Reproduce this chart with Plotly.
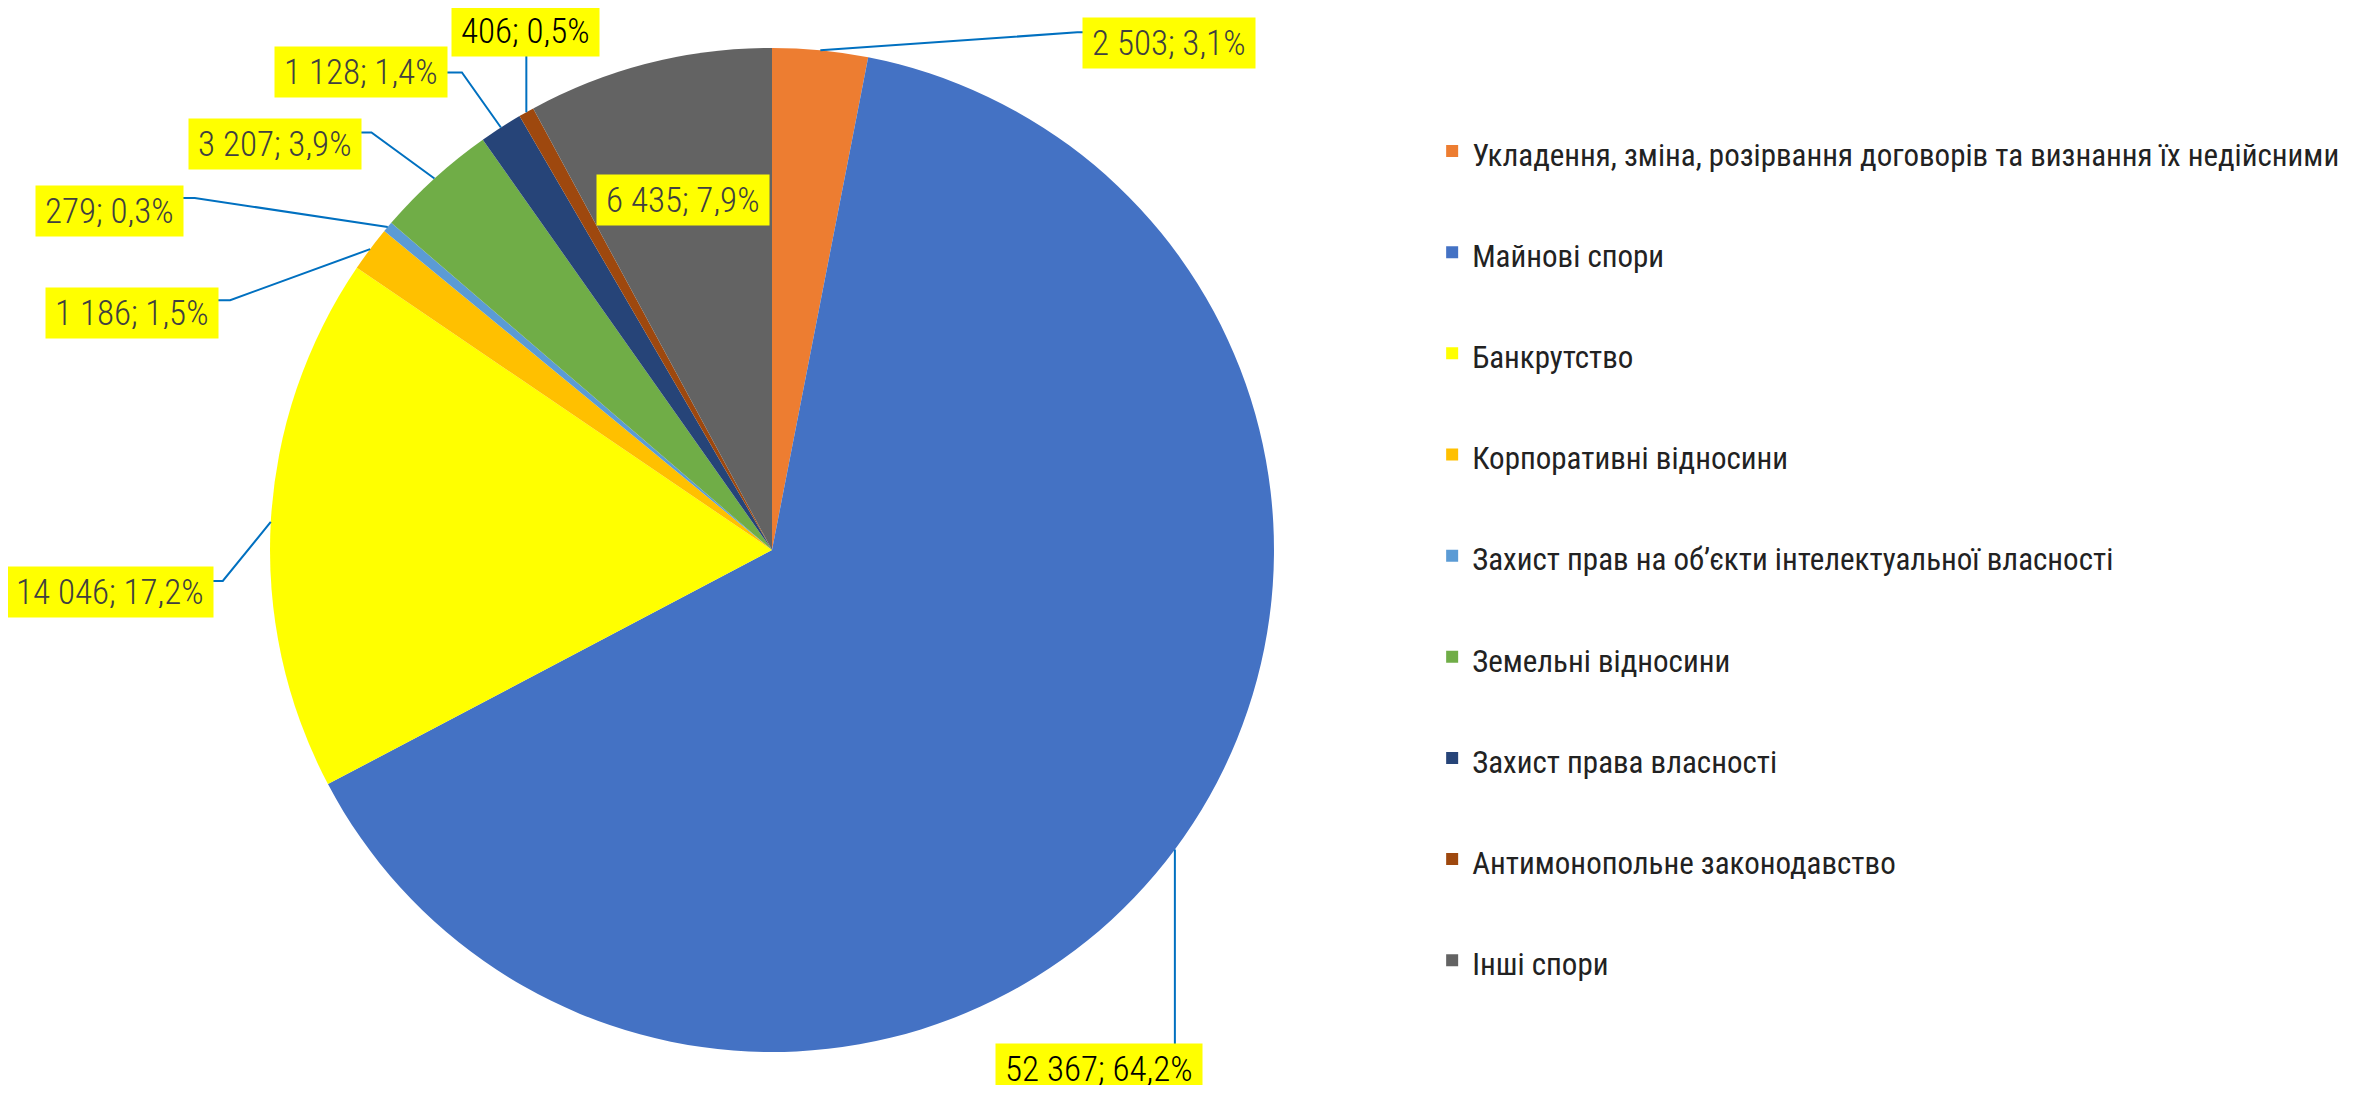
import math
import plotly.graph_objects as go

# ── Data ──────────────────────────────────────────────────────────────────────
categories = [
    "Укладення, зміна, розірвання договорів та визнання їх недійсними",
    "Майнові спори",
    "Банкрутство",
    "Корпоративні відносини",
    "Захист прав на об’єкти інтелектуальної власності",
    "Земельні відносини",
    "Захист права власності",
    "Антимонопольне законодавство",
    "Інші спори",
]
values = [2503, 52367, 14046, 1186, 279, 3207, 1128, 406, 6435]

colors = ["#ED7D31", "#4472C4", "#FFFF00", "#FFC000", "#5B9BD5",
          "#70AD47", "#264478", "#9E480E", "#636363"]

# ── Geometry / styling ────────────────────────────────────────────────────────
PAGE_W, PAGE_H = 2377, 1093
OFF = 8                             # browser body margin
W, H = PAGE_W - 2 * OFF, PAGE_H - 2 * OFF
CX, CY, R = 772, 550, 502           # pie centre and radius, page px
FONT = "Roboto Condensed, Roboto, sans-serif"
LINE_COLOR = "#0070C0"

# label box centre (dx, dy) and leader elbow (ex, ey), px offsets from the rim point
LABEL_LAYOUT = [
    dict(dx=349, dy=-7, ex=257, ey=-18, side="h", color="#404040"),
    dict(dx=-76, dy=220, ex=0, ey=195, side="v", color="#000000"),
    dict(dx=-161, dy=70, ex=-48, ey=59, side="h", color="#404040"),
    dict(dx=-238, dy=64, ex=-140, ey=51, side="h", color="#404040"),
    dict(dx=-278, dy=-16, ex=-193, ey=-29, side="h", color="#404040"),
    dict(dx=-159, dy=-34, ex=-63, ey=-46, side="h", color="#404040"),
    dict(dx=-140, dy=-55, ex=-39, ey=-55, side="h", color="#404040"),
    dict(dx=-1, dy=-81, ex=0, ey=-57, side="v", color="#000000"),
    dict(inside=0.72, color="#404040"),
]


def px_to_paper(x, y):
    return (x - OFF) / W, 1 - (y - OFF) / H


def fmt_label(v, total):
    pct = f"{v / total * 100:.1f}".replace(".", ",")
    return f"{v:,}".replace(",", " ") + f"; {pct}%"


total = sum(values)
x0, y1 = px_to_paper(CX - R, CY - R)
x1, y0 = px_to_paper(CX + R, CY + R)

fig = go.Figure(go.Pie(
    labels=[f"<span style='font-size:31px'>{c}</span><br> " for c in categories],
    values=values,
    sort=False,
    direction="clockwise",
    rotation=0,
    marker=dict(colors=colors, line=dict(width=0)),
    textinfo="none",
    hoverinfo="label+value+percent",
    domain=dict(x=[x0, x1], y=[y0, y1]),
))

annotations, shapes = [], []
cum = 0
for v, lay in zip(values, LABEL_LAYOUT):
    mid = (cum + v / 2) / total * 2 * math.pi
    cum += v
    sx, sy = math.sin(mid), -math.cos(mid)
    text = fmt_label(v, total)
    if "inside" in lay:
        bx, by = CX + R * lay["inside"] * sx, CY + R * lay["inside"] * sy
    else:
        ax, ay = CX + R * sx, CY + R * sy
        bx, by = ax + lay["dx"], ay + lay["dy"]
        ex, ey = ax + lay["ex"], ay + lay["ey"]
        fx, fy = (bx, ey) if lay["side"] == "h" else (ex, by)
        pts = [px_to_paper(*p) for p in [(ax, ay), (ex, ey), (fx, fy)]]
        path = "M " + " L ".join(f"{x:.5f},{y:.5f}" for x, y in pts)
        shapes.append(dict(type="path", xref="paper", yref="paper", path=path,
                           line=dict(color=LINE_COLOR, width=2), layer="above"))
    x, y = px_to_paper(bx, by)
    annotations.append(dict(
        x=x, y=y, xref="paper", yref="paper", text=text, showarrow=False,
        xanchor="center", yanchor="middle",
        bgcolor="#FFFF00", borderpad=9, height=32,
        font=dict(family=FONT, size=35, color=lay["color"], weight=300),
    ))

fig.update_layout(
    width=W, height=H,
    margin=dict(l=0, r=0, t=0, b=0),
    paper_bgcolor="white",
    plot_bgcolor="white",
    font=dict(family=FONT, color="#222222"),
    showlegend=True,
    legend=dict(
        x=0.6032, y=0.896, xanchor="left", yanchor="top",
        valign="top",
        font=dict(family=FONT, size=37.75, color="#222222", weight=400),
        bgcolor="rgba(0,0,0,0)",
    ),
    annotations=annotations,
    shapes=shapes,
)

fig.write_html("out.html")
